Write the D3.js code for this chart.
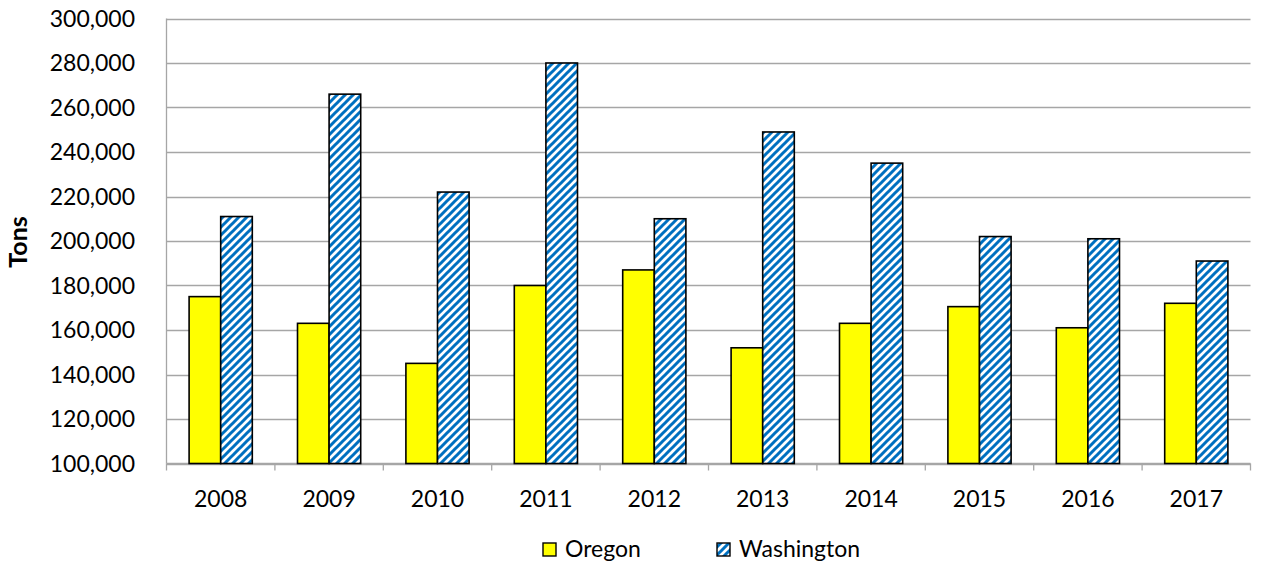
<!DOCTYPE html>
<html><head><meta charset="utf-8">
<script src="https://cdn.jsdelivr.net/npm/d3@7"></script>
<style>body{margin:0;background:#fff;} svg{display:block;font-family:Lato, "Open Sans", sans-serif;}</style>
</head><body>
<svg id="c" width="1264" height="567"></svg>
<script>
const years = ["2008","2009","2010","2011","2012","2013","2014","2015","2016","2017"];
const oregon = [175000,163000,145000,180000,187000,152000,163000,170500,161000,172000];
const washington = [211000,266000,222000,280000,210000,249000,235000,202000,201000,191000];
const yTicks = [100000,120000,140000,160000,180000,200000,220000,240000,260000,280000,300000];
const seriesNames = ["Oregon","Washington"];

const svg = d3.select("#c");
const L=166.5, R=1250.5, T=18.5, B=463.5;
const defs = svg.append("defs");
const pat = defs.append("pattern").attr("id","hatch").attr("patternUnits","userSpaceOnUse")
  .attr("width",8).attr("height",8);
pat.append("rect").attr("width",8).attr("height",8).attr("fill","#fff");
pat.append("path").attr("d","M-2,2 L2,-2 M0,8 L8,0 M6,10 L10,6").attr("stroke","#0070C0").attr("stroke-width",3);

const x = d3.scaleBand().domain(years).range([L,R]).paddingInner(0).paddingOuter(0);
const y = d3.scaleLinear().domain([100000,300000]).range([B,T]);
const fmt = d3.format(",");
const FS = 23;

// gridlines
svg.append("g").selectAll("line").data(yTicks).join("line")
  .attr("x1",L).attr("x2",R).attr("y1",d=>Math.round(y(d))+0.5).attr("y2",d=>Math.round(y(d))+0.5)
  .attr("stroke","#a6a6a6").attr("stroke-width",1.3);
// y labels
svg.append("g").selectAll("text").data(yTicks).join("text")
  .attr("x",135).attr("y",d=>y(d)+8.3).attr("text-anchor","end")
  .attr("font-size",FS).attr("fill","#000").text(d=>fmt(d));
// axis lines
svg.append("line").attr("x1",L).attr("x2",L).attr("y1",T).attr("y2",B).attr("stroke","#a6a6a6").attr("stroke-width",1.3);
svg.append("line").attr("x1",L).attr("x2",R).attr("y1",B).attr("y2",B).attr("stroke","#a6a6a6").attr("stroke-width",1.3);
// x ticks
const tickPos = years.map(d=>x(d)).concat([R]);
svg.append("g").selectAll("line").data(tickPos).join("line")
  .attr("x1",d=>d).attr("x2",d=>d).attr("y1",B).attr("y2",B+7)
  .attr("stroke","#a6a6a6").attr("stroke-width",1.3);
// x labels
svg.append("g").selectAll("text").data(years).join("text")
  .attr("x",d=>x(d)+x.bandwidth()/2).attr("y",507).attr("text-anchor","middle")
  .attr("font-size",FS).attr("fill","#000").text(d=>d);

const bw = 31.6;
// bars
const g = svg.append("g");
g.selectAll("rect.or").data(years).join("rect").attr("class","or")
  .attr("x",(d)=>x(d)+x.bandwidth()/2-bw).attr("width",bw)
  .attr("y",(d,i)=>y(oregon[i])).attr("height",(d,i)=>B-y(oregon[i]))
  .attr("fill","#ffff00").attr("stroke","#000").attr("stroke-width",1.6);
g.selectAll("rect.wa").data(years).join("rect").attr("class","wa")
  .attr("x",(d)=>x(d)+x.bandwidth()/2).attr("width",bw)
  .attr("y",(d,i)=>y(washington[i])).attr("height",(d,i)=>B-y(washington[i]))
  .attr("fill","url(#hatch)").attr("stroke","#000").attr("stroke-width",1.6);

// y title
svg.append("text").attr("transform","translate(27,242) rotate(-90)").attr("text-anchor","middle")
  .attr("font-size",25).attr("font-weight","bold").attr("fill","#000").text("Tons");

// legend
const leg = [{x:543, fill:"#ffff00", name:seriesNames[0]},{x:717, fill:"url(#hatch)", name:seriesNames[1]}];
const lg = svg.append("g");
leg.forEach(l=>{
  lg.append("rect").attr("x",l.x).attr("y",543).attr("width",13).attr("height",13)
    .attr("fill",l.fill).attr("stroke","#000").attr("stroke-width",1.4);
  lg.append("text").attr("x",l.x+22).attr("y",557).attr("font-size",FS).attr("fill","#000").text(l.name);
});
</script>
</body></html>
